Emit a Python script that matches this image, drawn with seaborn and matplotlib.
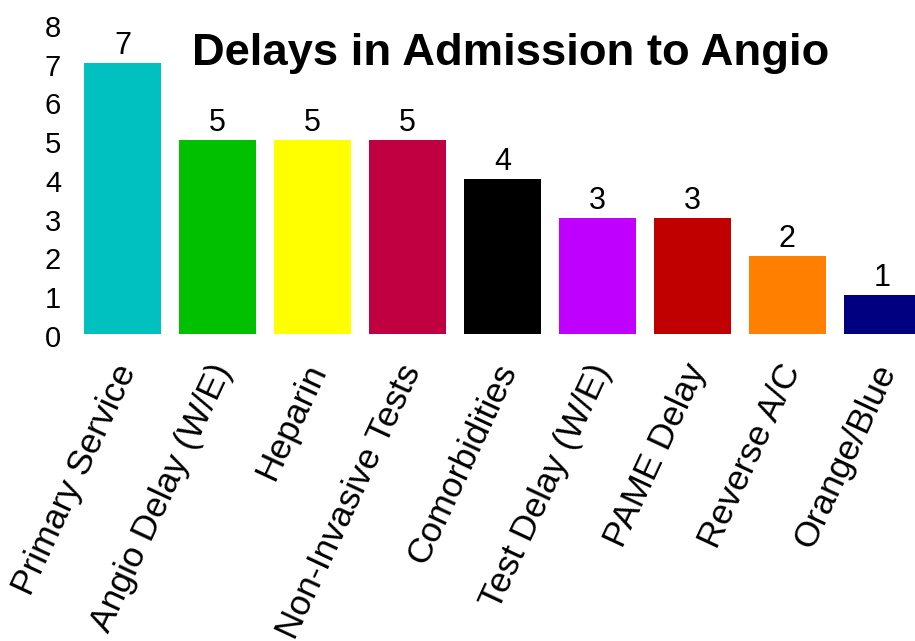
import matplotlib
matplotlib.use("Agg")
import matplotlib.pyplot as plt
import matplotlib.transforms as mtransforms
import seaborn as sns
import pandas as pd

categories = ["Primary Service", "Angio Delay (W/E)", "Heparin", "Non-Invasive Tests",
              "Comorbidities", "Test Delay (W/E)", "PAME Delay", "Reverse A/C", "Orange/Blue"]
counts = [7, 5, 5, 5, 4, 3, 3, 2, 1]
colors = ["#00C0C0", "#00C000", "#FFFF00", "#C00040", "#000000",
          "#C000FF", "#C00000", "#FF8000", "#000080"]
y_ticks = [0, 1, 2, 3, 4, 5, 6, 7, 8]
title = "Delays in Admission to Angio"

sns.set_style("white")
plt.rcParams["font.family"] = ["Liberation Sans", "DejaVu Sans"]
plt.rcParams["text.color"] = "black"
plt.rcParams["xtick.color"] = "black"
plt.rcParams["ytick.color"] = "black"

df = pd.DataFrame({"category": categories, "count": counts})

fig = plt.figure(figsize=(9.15, 6.41), dpi=100)
ax = fig.add_axes([0.082, 0.479, 0.934, 0.4836])

sns.barplot(data=df, x="category", y="count", hue="category", palette=colors,
            order=categories, hue_order=categories, width=0.81, legend=False,
            saturation=1, linewidth=0, ax=ax)

for cont in ax.containers:
    ax.bar_label(cont, labels=[f"{v:g}" for v in cont.datavalues],
                 padding=1.5, fontsize=22, color="black")

ax.set_ylim(0, 8)
ax.set_xlim(-0.5, 8.5)
ax.set_yticks(y_ticks)
ax.set_yticklabels([str(t) for t in y_ticks], fontsize=21)
ax.tick_params(axis="y", length=0, pad=10, labelcolor="black")
ax.tick_params(axis="x", length=0, pad=26, labelcolor="black")
ax.set_xticks(range(len(categories)))
ax.set_xticklabels(categories, fontsize=25.5, rotation=65, ha="right",
                   va="baseline", rotation_mode="anchor")
# nudge the slanted category labels to the right of each tick
shift = mtransforms.ScaledTranslation(0.14, 0, fig.dpi_scale_trans)
for lbl in ax.get_xticklabels():
    lbl.set_transform(lbl.get_transform() + shift)
# y labels sit a touch low relative to their ticks
ydown = mtransforms.ScaledTranslation(0, -0.02, fig.dpi_scale_trans)
for lbl in ax.get_yticklabels():
    lbl.set_transform(lbl.get_transform() + ydown)
ax.set_xlabel("")
ax.set_ylabel("")
sns.despine(ax=ax, left=True, bottom=True)

ax.text(0.51, 0.868, title, transform=ax.transAxes, ha="center", va="baseline",
        fontsize=32.7, fontweight="bold", color="black")

fig.savefig("out.png", dpi=100)
